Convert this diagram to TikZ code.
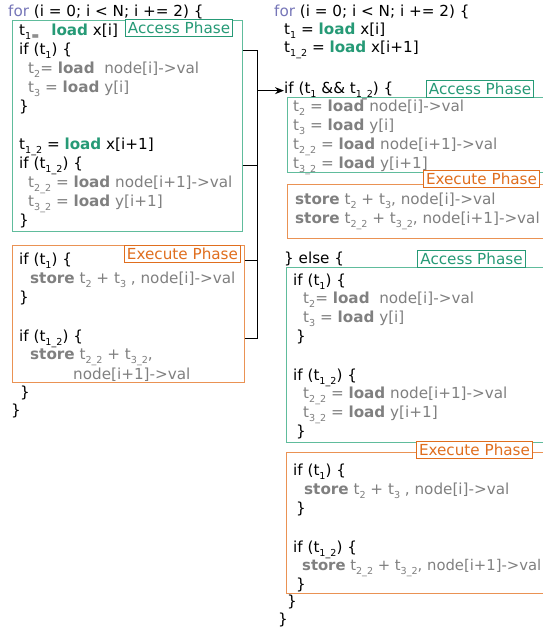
\documentclass[tikz,border=0pt]{standalone}
\usepackage{fontspec}
\setmainfont{DejaVu Sans}
\usetikzlibrary{arrows.meta}
\definecolor{grn}{RGB}{38,154,118}
\definecolor{gbord}{RGB}{96,188,156}
\definecolor{org}{RGB}{224,110,30}
\definecolor{obord}{RGB}{234,146,84}
\definecolor{gry}{RGB}{128,128,128}
\definecolor{forc}{RGB}{118,118,184}
\newcommand\sbs[1]{\raisebox{-0.3em}{\fontsize{9.6}{10}\selectfont #1}}
\newcommand\ld{\textbf{load}}
\newcommand\gld{\textcolor{grn}{\textbf{load}}}
\newcommand\st{\textbf{store}}
\begin{document}
\begin{tikzpicture}[x=1pt,y=-1pt,
  code/.style={anchor=base west, inner sep=0pt, font={\fontsize{15.2}{19}\selectfont}},
  gc/.style={code, text=gry},
  gbox/.style={draw=gbord, line width=1pt, inner sep=0pt},
  obox/.style={draw=obord, line width=1pt, inner sep=0pt},
  glabel/.style={draw=grn, fill=white, text=grn, line width=0.8pt, inner xsep=2.5pt, inner ysep=0pt, minimum height=17pt, font={\fontsize{15.2}{19}\selectfont}},
  olabel/.style={draw=org, fill=white, text=org, line width=0.8pt, inner xsep=2.5pt, inner ysep=0pt, minimum height=17pt, font={\fontsize{15.2}{19}\selectfont}},
  conn/.style={draw=black, line width=1pt}]
\clip (0,0) rectangle (543,633);
\fill[white] (0,0) rectangle (543,633);
% ---------------- left boxes
\node[gbox, minimum width=230pt, minimum height=211pt] (LA) at (127,125.5) {};
\node[obox, minimum width=232pt, minimum height=137pt] (LE) at (128,313.5) {};
\node[glabel] (LAl) at (179,27.5) {Access Phase};
\node[olabel] (LEl) at (182.5,253.5) {Execute Phase};
% ---------------- left code
\node[code] (L0) at (8,16) {\textcolor{forc}{for} (i = 0; i < N; i += 2) \{};
\node[code] (L1) at (19,35) {t\sbs{1=}\hspace{12pt}\gld{} x[i]};
\node[code] (L2) at (19,54) {if (t\sbs{1}) \{};
\node[gc] (L3) at (28,73) {t\sbs{2}= \ld\ \ node[i]->val};
\node[gc] (L4) at (28,92) {t\sbs{3} = \ld{} y[i]};
\node[code] (L5) at (19,111) {\}};
\node[code] (L6) at (19,149) {t\sbs{1\_2} = \gld{} x[i+1]};
\node[code] (L7) at (19,168) {if (t\sbs{1\_2}) \{};
\node[gc] (L8) at (28,187) {t\sbs{2\_2} = \ld{} node[i+1]->val};
\node[gc] (L9) at (28,206) {t\sbs{3\_2} = \ld{} y[i+1]};
\node[code] (L10) at (19,225) {\}};
\node[code] (L11) at (19,264) {if (t\sbs{1}) \{};
\node[gc] (L12) at (30,283) {\st{} t\sbs{2} + t\sbs{3} , node[i]->val};
\node[code] (L13) at (19,302) {\}};
\node[code] (L14) at (19,341) {if (t\sbs{1\_2}) \{};
\node[gc] (L15) at (30,359) {\st{} t\sbs{2\_2} + t\sbs{3\_2},};
\node[gc] (L16) at (73,379) {node[i+1]->val};
\node[code] (L17) at (20,397) {\}};
\node[code] (L18) at (11,415) {\}};
% ---------------- right boxes
\node[gbox, minimum width=264pt, minimum height=75pt] (RA1) at (419,134.5) {};
\node[obox, minimum width=264pt, minimum height=54pt] (RE1) at (419,211) {};
\node[gbox, minimum width=264pt, minimum height=175pt] (RA2) at (418,354.5) {};
\node[obox, minimum width=264pt, minimum height=141pt] (RE2) at (418,522.5) {};
\node[glabel] (RA1l) at (480,89) {Access Phase};
\node[olabel] (RE1l) at (481.5,179) {Execute Phase};
\node[glabel] (RA2l) at (471.5,258.5) {Access Phase};
\node[olabel] (RE2l) at (474.5,449.5) {Execute Phase};
% ---------------- right code
\node[code] (R0) at (274,16) {\textcolor{forc}{for} (i = 0; i < N; i += 2) \{};
\node[code] (R1) at (284,34) {t\sbs{1} = \gld{} x[i]};
\node[code] (R2) at (284,52) {t\sbs{1\_2} = \gld{} x[i+1]};
\node[code] (R3) at (284,93) {if (t\sbs{1} \&\& t\sbs{1\_2}) \{};
\node[gc] (R4) at (293,111) {t\sbs{2} = \ld{} node[i]->val};
\node[gc] (R5) at (293,130) {t\sbs{3} = \ld{} y[i]};
\node[gc] (R6) at (293,149) {t\sbs{2\_2} = \ld{} node[i+1]->val};
\node[gc] (R7) at (293,168) {t\sbs{3\_2} = \ld{} y[i+1]};
\node[gc] (R8) at (295,204) {\st{} t\sbs{2} + t\sbs{3}, node[i]->val};
\node[gc] (R9) at (295,223) {\st{} t\sbs{2\_2} + t\sbs{3\_2}, node[i+1]->val};
\node[code] (R10) at (284,263) {\} else \{};
\node[code] (R11) at (293,285) {if (t\sbs{1}) \{};
\node[gc] (R12) at (303,303) {t\sbs{2}= \ld\ \ node[i]->val};
\node[gc] (R13) at (303,322) {t\sbs{3} = \ld{} y[i]};
\node[code] (R14) at (296,341) {\}};
\node[code] (R15) at (293,380) {if (t\sbs{1\_2}) \{};
\node[gc] (R16) at (303,398) {t\sbs{2\_2} = \ld{} node[i+1]->val};
\node[gc] (R17) at (303,417) {t\sbs{3\_2} = \ld{} y[i+1]};
\node[code] (R18) at (296,436) {\}};
\node[code] (R19) at (293,475) {if (t\sbs{1}) \{};
\node[gc] (R20) at (304,494) {\st{} t\sbs{2} + t\sbs{3} , node[i]->val};
\node[code] (R21) at (296,513) {\}};
\node[code] (R22) at (293,552) {if (t\sbs{1\_2}) \{};
\node[gc, font={\fontsize{14.8}{19}\selectfont}] (R23) at (302,570) {\st{} t\sbs{2\_2} + t\sbs{3\_2}, node[i+1]->val};
\node[code] (R24) at (296,589) {\}};
\node[code] (R25) at (287,606) {\}};
\node[code] (R26) at (278,624) {\}};
% ---------------- connector
\coordinate (bx) at (257,0);
\draw[conn] (LA.east |- L2) -- (bx |- L2) -- (bx |- L14) -- (LE.east |- L14);
\draw[conn] (LA.east |- L7) -- (bx |- L7);
\draw[conn] (LE.east |- L11) -- (bx |- L11);
\draw[conn, -{Stealth[length=9pt,width=7pt]}] (bx |- R3) -- (R3.west);
\end{tikzpicture}
\end{document}
